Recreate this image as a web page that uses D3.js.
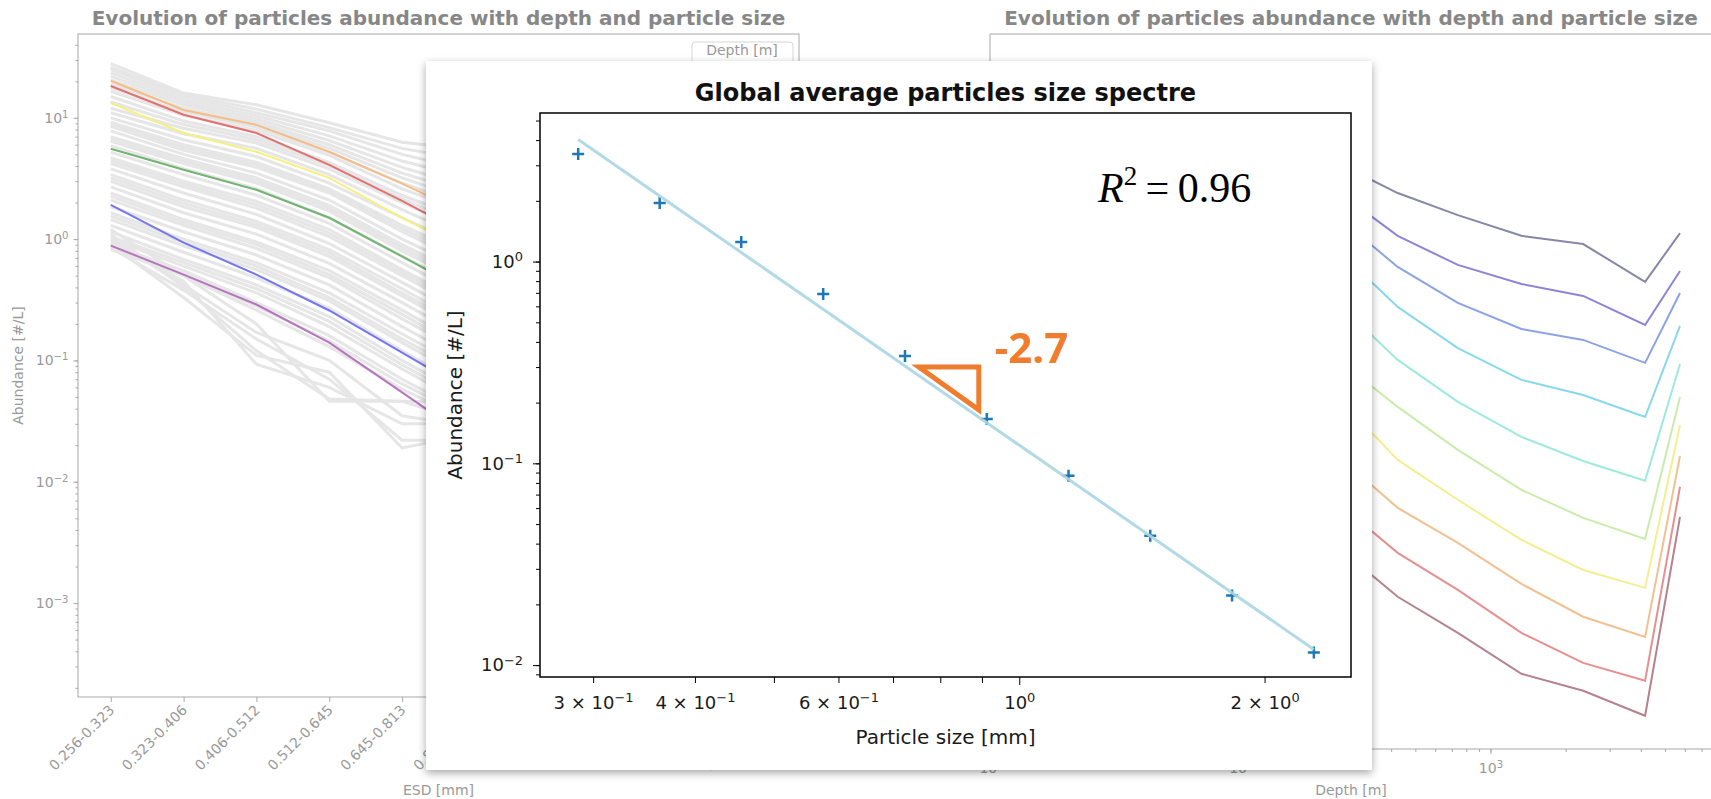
<!DOCTYPE html>
<html>
<head>
<meta charset="utf-8">
<script src="https://cdn.jsdelivr.net/npm/d3@7"></script>
<style>
  body { margin: 0; background: #fff; }
  svg { display: block; font-family: "DejaVu Sans", sans-serif; }
</style>
</head>
<body>
<svg id="chart" width="1711" height="799"></svg>
<script>
// ---------------- data ----------------
// left background chart : abundance [#/L] per ESD bin (only the first bins show, the rest is under the inset)
const sizeBins = ["0.256-0.323", "0.323-0.406", "0.406-0.512", "0.512-0.645", "0.645-0.813",
                  "0.813-1.024", "1.024-1.290", "1.290-1.625", "1.625-2.048", "2.048-2.580"];

const greyProfiles = [
  [28, 16, 12.8, 9.1, 6.3, 5.4],
  [26, 15.5, 11.8, 8.3, 5.6, 4.4],
  [25, 15, 11, 7.8, 5.0, 3.6],
  [23.5, 14.2, 10.4, 7.1, 4.4, 3.1],
  [22, 13.5, 9.8, 6.5, 3.9, 2.6],
  [20.5, 12.8, 9.3, 6.0, 3.5, 2.3],
  [19, 12, 8.9, 5.6, 3.2, 2.0],
  [17.7, 11.2, 8.4, 5.2, 2.9, 1.8],
  [16.5, 10.5, 7.9, 4.9, 2.6, 1.6],
  [15, 9.4, 7.0, 4.3, 2.3, 1.35],
  [13.5, 8.8, 6.6, 4.05, 2.15, 1.2],
  [12, 8.2, 6.2, 3.8, 2.0, 1.1],
  [11, 7.4, 5.6, 3.4, 1.75, 0.95],
  [10, 6.6, 4.8, 2.9, 1.5, 0.8],
  [9.2, 6.0, 4.3, 2.6, 1.3, 0.7],
  [8.8, 5.7, 4.1, 2.5, 1.22, 0.65],
  [8.5, 5.4, 3.9, 2.4, 1.15, 0.6],
  [7.8, 5.0, 3.5, 2.1, 1.0, 0.52],
  [7.0, 4.6, 3.2, 1.9, 0.9, 0.46],
  [6.7, 4.4, 3.05, 1.8, 0.85, 0.43],
  [6.4, 4.2, 2.9, 1.7, 0.8, 0.4],
  [5.9, 3.8, 2.6, 1.5, 0.72, 0.36],
  [5.2, 3.4, 2.3, 1.35, 0.64, 0.31],
  [4.7, 3.0, 2.05, 1.2, 0.56, 0.27],
  [4.45, 2.85, 1.92, 1.12, 0.53, 0.25],
  [4.2, 2.7, 1.8, 1.05, 0.5, 0.24],
  [3.8, 2.4, 1.6, 0.92, 0.44, 0.21],
  [3.4, 2.1, 1.4, 0.82, 0.39, 0.18],
  [3.2, 1.97, 1.32, 0.77, 0.36, 0.17],
  [3.0, 1.85, 1.25, 0.72, 0.34, 0.16],
  [2.7, 1.65, 1.1, 0.63, 0.3, 0.14],
  [2.4, 1.45, 0.95, 0.55, 0.26, 0.12],
  [2.25, 1.37, 0.9, 0.51, 0.24, 0.11],
  [2.1, 1.3, 0.84, 0.48, 0.22, 0.105],
  [1.85, 1.15, 0.74, 0.42, 0.19, 0.09],
  [1.65, 1.0, 0.64, 0.36, 0.165, 0.078],
  [1.55, 0.94, 0.6, 0.33, 0.15, 0.072],
  [1.45, 0.88, 0.56, 0.31, 0.14, 0.066],
  [1.3, 0.78, 0.48, 0.27, 0.12, 0.056],
  [1.15, 0.68, 0.42, 0.23, 0.10, 0.047],
  [1.05, 0.64, 0.39, 0.21, 0.092, 0.043],
  [1.0, 0.6, 0.36, 0.19, 0.085, 0.04],
  [0.9, 0.55, 0.3, 0.16, 0.07, 0.034],
  [0.86, 0.52, 0.28, 0.145, 0.064, 0.032],
  [0.82, 0.5, 0.26, 0.13, 0.058, 0.03],
  [0.95, 0.45, 0.093, 0.06, 0.03, 0.03],
  [1.1, 0.4, 0.12, 0.048, 0.046, 0.045],
  [0.85, 0.38, 0.15, 0.07, 0.022, 0.022],
  [1.2, 0.5, 0.2, 0.046, 0.046, 0.03],
  [0.9, 0.33, 0.11, 0.08, 0.019, 0.025],
  [1.0, 0.42, 0.17, 0.1, 0.035, 0.028]
];

const depthProfiles = [
  [20.2, 11.6, 8.75, 5.25, 2.87, 1.5],
  [18.3, 10.6, 7.5, 4.1, 2.07, 1.0],
  [13.3, 7.5, 5.25, 3.2, 1.5, 0.75],
  [5.56, 3.73, 2.55, 1.5, 0.72, 0.34],
  [1.92, 0.935, 0.51, 0.258, 0.116, 0.052],
  [0.885, 0.51, 0.289, 0.14, 0.0546, 0.021]
];
const depthColors = ["#f4bd86", "#e07272", "#f6f07e", "#72b472", "#7676ee", "#b676bf"];

// right background chart : abundance per size class along depth [m]
const depths = [240, 425, 740, 1330, 2350, 4160, 5740];
const classProfiles = [
  [5.16, 2.99, 2.03, 1.41, 1.22, 0.627, 1.48],
  [3.16, 1.41, 0.845, 0.605, 0.49, 0.294, 0.76],
  [2.03, 0.815, 0.434, 0.274, 0.226, 0.151, 0.516],
  [1.14, 0.404, 0.196, 0.112, 0.0859, 0.0583, 0.289],
  [0.449, 0.159, 0.076, 0.0411, 0.0269, 0.019, 0.148],
  [0.165, 0.0697, 0.0327, 0.0162, 0.00989, 0.00684, 0.083],
  [0.0859, 0.0274, 0.0136, 0.00671, 0.00396, 0.00289, 0.0507],
  [0.0305, 0.0118, 0.00638, 0.0031, 0.00174, 0.00122, 0.0294],
  [0.0133, 0.00535, 0.00279, 0.00131, 0.000773, 0.000564, 0.0171],
  [0.00615, 0.00247, 0.00131, 0.000638, 0.000473, 0.000305, 0.01007]
];
const classColors = ["#7a7a9e", "#8078d0", "#7e9ade", "#7ad4ea", "#92e8d8",
                     "#c4eaa2", "#f4ec84", "#f0ba86", "#e28484", "#ad7682"];

// inset : global average spectrum
const particleSize = [0.2876, 0.3621, 0.4559, 0.5747, 0.7241, 0.9124, 1.1493, 1.4479, 1.8243, 2.2987];
const meanAbundance = [3.41, 1.95, 1.25, 0.690, 0.340, 0.166, 0.0867, 0.0438, 0.0221, 0.01153];
const fitCoef = 0.123, fitSlope = -2.80;
const r2 = 0.96;
const slopeLabel = "-2.7";
const triangleX = [0.753, 0.892];
const triangleY = [0.300, 0.184];
const sizeTicks = [0.3, 0.4, 0.5, 0.6, 0.7, 0.8, 0.9, 1, 2];
const sizeTickLabels = [0.3, 0.4, 0.6, 1, 2];

// ---------------- helpers ----------------
function logMinor(lo, hi) {
  const out = [];
  for (let e = Math.floor(Math.log10(lo)); e <= Math.ceil(Math.log10(hi)); e++)
    for (let k = 1; k < 10; k++) {
      const v = k * Math.pow(10, e);
      if (v >= lo && v <= hi) out.push(v);
    }
  return out;
}
function sciText(sel, v) {
  const e = Math.floor(Math.log10(v) + 1e-9);
  const m = Math.round(v / Math.pow(10, e));
  sel.text(null);
  sel.append('tspan').text(m === 1 ? '10' : m + ' \u00d7 10');
  sel.append('tspan').attr('dy', '-0.5em').attr('font-size', '0.72em')
    .text(e < 0 ? '\u2212' + (-e) : e);
}

const svg = d3.select('#chart');
svg.append('defs').append('filter')
  .attr('id', 'shadow').attr('x', '-5%').attr('y', '-5%').attr('width', '110%').attr('height', '112%')
  .append('feDropShadow')
  .attr('dx', 0).attr('dy', 3).attr('stdDeviation', 4)
  .attr('flood-color', '#000').attr('flood-opacity', 0.35);

const faded = '#878787';

// ---------------- left chart ----------------
const L = {x0: 78, x1: 799, y0: 34, y1: 697};
const left = svg.append('g');
const xL = d3.scalePoint().domain(sizeBins).range([L.x0, L.x1]).padding(0.45);
const yL = d3.scaleLog().domain([1.68e-4, 49.1]).range([L.y1, L.y0]);
const lineL = d3.line().x((d, i) => xL(sizeBins[i])).y(d => yL(d));

left.append('text')
  .attr('x', (L.x0 + L.x1) / 2).attr('y', 25)
  .attr('text-anchor', 'middle').attr('font-size', 20).attr('font-weight', 'bold')
  .attr('fill', faded)
  .text('Evolution of particles abundance with depth and particle size');

left.append('g').selectAll('path')
  .data(greyProfiles).enter()
  .append('path')
  .attr('d', lineL)
  .attr('fill', 'none').attr('stroke', '#e6e6e6').attr('stroke-width', 3);

left.append('g').selectAll('path')
  .data(depthProfiles).enter()
  .append('path')
  .attr('d', lineL)
  .attr('fill', 'none').attr('stroke', (d, i) => depthColors[i]).attr('stroke-width', 2);

left.append('g')
  .attr('transform', `translate(${L.x0},0)`)
  .call(d3.axisLeft(yL).tickValues(logMinor(2e-4, 40)).tickSize(2.5).tickFormat(''))
  .call(g => g.select('.domain').remove())
  .attr('color', '#a8a8a8');

left.append('g')
  .attr('transform', `translate(${L.x0},0)`)
  .call(d3.axisLeft(yL).tickValues([1e-3, 1e-2, 1e-1, 1, 10]).tickSize(4.5).tickPadding(5).tickFormat(''))
  .call(g => g.select('.domain').remove())
  .attr('color', '#a8a8a8')
  .attr('font-size', 14).attr('font-family', '"DejaVu Sans", sans-serif')
  .call(g => g.selectAll('.tick text').attr('fill', '#999').each(function(d) { sciText(d3.select(this), d); }));

left.append('g')
  .attr('transform', `translate(0,${L.y1})`)
  .call(d3.axisBottom(xL).tickSize(5))
  .call(g => g.select('.domain').remove())
  .attr('color', '#a8a8a8')
  .attr('font-size', 14).attr('font-family', '"DejaVu Sans", sans-serif')
  .call(g => g.selectAll('.tick text')
    .attr('fill', '#999').attr('text-anchor', 'end')
    .attr('x', null).attr('y', null).attr('dy', null)
    .attr('transform', 'translate(4,14) rotate(-45)'));

left.append('rect')
  .attr('x', L.x0).attr('y', L.y0).attr('width', L.x1 - L.x0).attr('height', L.y1 - L.y0)
  .attr('fill', 'none').attr('stroke', '#a8a8a8');

left.append('text')
  .attr('transform', `translate(23,${(L.y0 + L.y1) / 2}) rotate(-90)`)
  .attr('text-anchor', 'middle').attr('font-size', 14).attr('fill', '#999')
  .text('Abundance [#/L]');

left.append('text')
  .attr('x', (L.x0 + L.x1) / 2).attr('y', 795)
  .attr('text-anchor', 'middle').attr('font-size', 14).attr('fill', '#999')
  .text('ESD [mm]');

left.append('rect')
  .attr('x', 692).attr('y', 42).attr('width', 101).attr('height', 40).attr('rx', 3)
  .attr('fill', '#fff').attr('stroke', '#d6d6d6');
left.append('text')
  .attr('x', 742).attr('y', 55)
  .attr('text-anchor', 'middle').attr('font-size', 14).attr('fill', '#999')
  .text('Depth [m]');

// ---------------- right chart ----------------
const R = {x0: 990, x1: 1712, y0: 34, y1: 749};
const right = svg.append('g');
const xR = d3.scaleLog().domain([9.9, 7710]).range([R.x0, R.x1]);
const yR = d3.scaleLog().domain([1.7e-4, 49]).range([R.y1, R.y0]);
const lineR = d3.line().x((d, i) => xR(depths[i])).y(d => yR(d));

right.append('text')
  .attr('x', (R.x0 + R.x1) / 2).attr('y', 25)
  .attr('text-anchor', 'middle').attr('font-size', 20).attr('font-weight', 'bold')
  .attr('fill', faded)
  .text('Evolution of particles abundance with depth and particle size');

right.append('g').selectAll('path')
  .data(classProfiles).enter()
  .append('path')
  .attr('d', lineR)
  .attr('fill', 'none').attr('stroke', (d, i) => classColors[i])
  .attr('stroke-width', 2).attr('stroke-opacity', 0.9);

right.append('g')
  .attr('transform', `translate(0,${R.y1})`)
  .call(d3.axisBottom(xR).tickValues(logMinor(10, 7700)).tickSize(3).tickFormat(''))
  .call(g => g.select('.domain').remove())
  .attr('color', '#a8a8a8');

right.append('g')
  .attr('transform', `translate(0,${R.y1})`)
  .call(d3.axisBottom(xR).tickValues([10, 100, 1000]).tickSize(5).tickPadding(9).tickFormat(''))
  .call(g => g.select('.domain').remove())
  .attr('color', '#a8a8a8')
  .attr('font-size', 14).attr('font-family', '"DejaVu Sans", sans-serif')
  .call(g => g.selectAll('.tick text').attr('fill', '#999').each(function(d) { sciText(d3.select(this), d); }));

right.append('path')
  .attr('d', `M${R.x0},${R.y1}V${R.y0}H${R.x1}M${R.x0},${R.y1}H${R.x1}`)
  .attr('fill', 'none').attr('stroke', '#a8a8a8');

right.append('text')
  .attr('x', (R.x0 + R.x1) / 2).attr('y', 795)
  .attr('text-anchor', 'middle').attr('font-size', 14).attr('fill', '#999')
  .text('Depth [m]');

// ---------------- inset ----------------
const P = {x: 426, y: 61, w: 946, h: 709};
const C = {x0: 540, x1: 1351, y0: 113, y1: 677};
const inset = svg.append('g');

inset.append('rect')
  .attr('x', P.x).attr('y', P.y).attr('width', P.w).attr('height', P.h)
  .attr('fill', '#fff').attr('filter', 'url(#shadow)');

const xs = d3.scaleLog().domain([0.2582, 2.553]).range([C.x0, C.x1]);
const ys = d3.scaleLog().domain([0.00873, 5.45]).range([C.y1, C.y0]);

inset.append('text')
  .attr('x', (C.x0 + C.x1) / 2).attr('y', 101)
  .attr('text-anchor', 'middle').attr('font-size', 24).attr('font-weight', 'bold').attr('fill', '#111')
  .text('Global average particles size spectre');

// plus markers
const sizes = particleSize.map((s, i) => ({s: s, a: meanAbundance[i]}));
inset.append('g').selectAll('path')
  .data(sizes).enter()
  .append('path')
  .attr('d', d => `M${xs(d.s) - 6},${ys(d.a)}h12M${xs(d.s)},${ys(d.a) - 6}v12`)
  .attr('stroke', '#1f77b4').attr('stroke-width', 2.5);

// power law fit, drawn on top of the markers
inset.append('path')
  .datum(particleSize)
  .attr('d', d3.line().x(d => xs(d)).y(d => ys(fitCoef * Math.pow(d, fitSlope))))
  .attr('fill', 'none').attr('stroke', '#a9d6e3').attr('stroke-width', 3).attr('opacity', 0.9);

inset.append('g')
  .attr('transform', `translate(${C.x0},0)`)
  .call(d3.axisLeft(ys).tickValues(logMinor(0.009, 5.4)).tickSize(4).tickFormat(''))
  .call(g => g.select('.domain').remove())
  .attr('color', '#000');

inset.append('g')
  .attr('transform', `translate(${C.x0},0)`)
  .call(d3.axisLeft(ys).tickValues([0.01, 0.1, 1]).tickSize(7).tickPadding(10).tickFormat(''))
  .call(g => g.select('.domain').remove())
  .attr('color', '#000')
  .attr('font-size', 18).attr('font-family', '"DejaVu Sans", sans-serif')
  .call(g => g.selectAll('.tick text').attr('fill', '#1a1a1a').each(function(d) { sciText(d3.select(this), d); }));

inset.append('g')
  .attr('transform', `translate(0,${C.y1})`)
  .call(d3.axisBottom(xs).tickValues(sizeTicks).tickSize(6).tickPadding(13).tickFormat(''))
  .call(g => g.select('.domain').remove())
  .attr('color', '#000')
  .attr('font-size', 18).attr('font-family', '"DejaVu Sans", sans-serif')
  .call(g => g.selectAll('.tick text').attr('fill', '#1a1a1a').each(function(d) {
    if (sizeTickLabels.includes(d)) sciText(d3.select(this), d);
  }))
  .call(g => g.selectAll('.tick line').attr('y2', d => d === 1 ? 8 : 6));

inset.append('rect')
  .attr('x', C.x0).attr('y', C.y0).attr('width', C.x1 - C.x0).attr('height', C.y1 - C.y0)
  .attr('fill', 'none').attr('stroke', '#000').attr('stroke-width', 1.5);

inset.append('text')
  .attr('transform', `translate(462,${(C.y0 + C.y1) / 2}) rotate(-90)`)
  .attr('text-anchor', 'middle').attr('font-size', 20).attr('fill', '#1a1a1a')
  .text('Abundance [#/L]');

inset.append('text')
  .attr('x', (C.x0 + C.x1) / 2).attr('y', 744)
  .attr('text-anchor', 'middle').attr('font-size', 20).attr('fill', '#1a1a1a')
  .text('Particle size [mm]');

// R^2 in the upper right
const r2Text = inset.append('text')
  .attr('x', C.x0 + 558).attr('y', C.y0 + 89)
  .attr('font-family', '"Liberation Serif", "DejaVu Serif", serif').attr('font-size', 42).attr('fill', '#000');
r2Text.append('tspan').attr('font-style', 'italic').text('R');
r2Text.append('tspan').attr('dy', -17).attr('font-size', 27).text('2');
r2Text.append('tspan').attr('dy', 17).text('\u2009=\u2009' + r2.toFixed(2));

// slope triangle
const orange = '#f07d2e';
inset.append('path')
  .attr('d', `M${xs(triangleX[0])},${ys(triangleY[0])}H${xs(triangleX[1])}V${ys(triangleY[1])}Z`)
  .attr('fill', 'none').attr('stroke', orange).attr('stroke-width', 5).attr('stroke-linejoin', 'miter');

inset.append('text')
  .attr('x', xs(triangleX[1]) + 16).attr('y', ys(triangleY[0]) - 4)
  .attr('font-family', '"Open Sans", "Noto Sans", sans-serif').attr('font-weight', 700)
  .attr('font-size', 42).attr('fill', orange)
  .text(slopeLabel);
</script>
</body>
</html>
